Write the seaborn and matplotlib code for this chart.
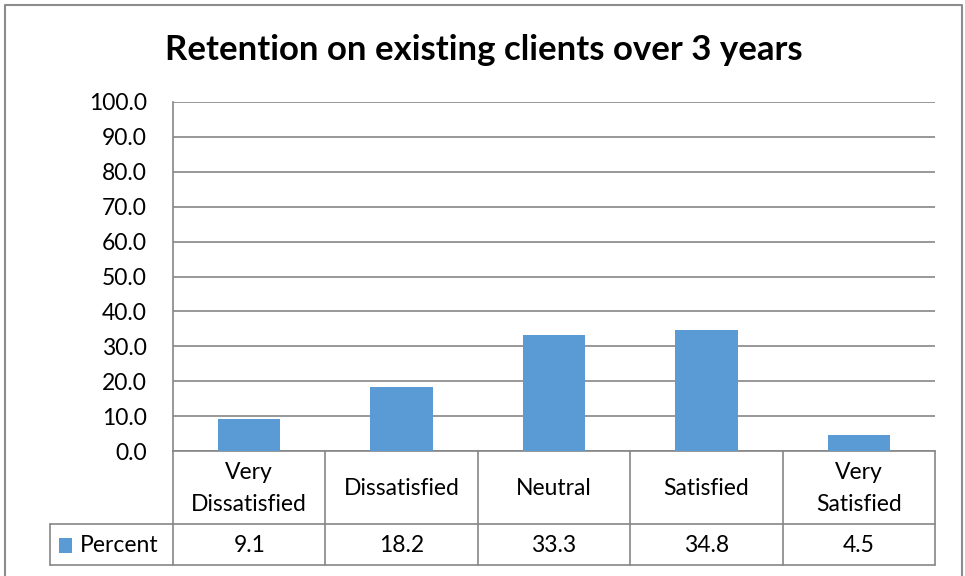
import matplotlib
matplotlib.use("Agg")
import matplotlib.pyplot as plt
import seaborn as sns
import pandas as pd
from matplotlib.lines import Line2D
from matplotlib.patches import Rectangle
import matplotlib.transforms as mtransforms

categories = ["Very\nDissatisfied", "Dissatisfied", "Neutral", "Satisfied", "Very\nSatisfied"]
values = [9.1, 18.2, 33.3, 34.8, 4.5]
value_labels = ["9.1", "18.2", "33.3", "34.8", "4.5"]
series_name = "Percent"
title = "Retention on existing clients over 3 years"
yticks = [0, 10, 20, 30, 40, 50, 60, 70, 80, 90, 100]

sns.set_theme(style="white")
plt.rcParams["font.family"] = ["Lato", "DejaVu Sans"]

W, H = 965, 576
fig = plt.figure(figsize=(W / 100, H / 100), dpi=100)

def fx(px):
    return px / W

def fy(py):
    return 1 - py / H

FS = 16.5
ax_left, ax_right, ax_top, ax_bottom = 173, 935, 102, 451
ax = fig.add_axes([fx(ax_left), fy(ax_bottom), fx(ax_right - ax_left), (ax_bottom - ax_top) / H])

df = pd.DataFrame({"cat": categories, "val": values})
bar_color = "#5B9BD5"
sns.barplot(data=df, x="cat", y="val", color=bar_color, saturation=1, width=0.41, ax=ax,
            zorder=3, linewidth=0)

ax.set_ylim(0, 100)
ax.set_xlim(-0.5, len(categories) - 0.5)
ax.set_yticks(yticks)
ax.set_yticklabels([f"{t:.1f}" for t in yticks], fontsize=FS, color="#000000")
ax.set_xticks([])
ax.set_xlabel("")
ax.set_ylabel("")
grid_c = "#868686"
ax.yaxis.grid(True, color=grid_c, linewidth=1.2, zorder=0)
ax.set_axisbelow(True)
for s in ["top", "right"]:
    ax.spines[s].set_visible(False)
ax.spines["left"].set_color(grid_c)
ax.spines["left"].set_linewidth(1.2)
ax.spines["bottom"].set_color(grid_c)
ax.spines["bottom"].set_linewidth(1.2)
ax.tick_params(axis="y", length=0, pad=19)

# Data table below the plot
trans = mtransforms.blended_transform_factory(ax.transData, fig.transFigure)
row1_bottom = 524
row2_bottom = 565
legend_left = 50
lw = 1.2
for i in range(len(categories) + 1):
    xv = i - 0.5
    fig.add_artist(Line2D([xv, xv], [fy(ax_bottom), fy(row2_bottom)], transform=trans,
                          color=grid_c, linewidth=lw))
for yy in [row1_bottom, row2_bottom]:
    fig.add_artist(Line2D([fx(legend_left), fx(ax_right)], [fy(yy), fy(yy)],
                          transform=fig.transFigure, color=grid_c, linewidth=lw))
fig.add_artist(Line2D([fx(legend_left), fx(legend_left)], [fy(row1_bottom), fy(row2_bottom)],
                      transform=fig.transFigure, color=grid_c, linewidth=lw))

for i, (c, v) in enumerate(zip(categories, value_labels)):
    fig.text(i, fy((ax_bottom + row1_bottom) / 2 + 1), c, transform=trans, ha="center", va="center",
             fontsize=FS, linespacing=1.6, color="#000000")
    fig.text(i, fy((row1_bottom + row2_bottom) / 2 + 1), v, transform=trans, ha="center", va="center",
             fontsize=FS, color="#000000")

fig.add_artist(Rectangle((fx(59), fy(553)), fx(13), (553 - 538) / H, transform=fig.transFigure,
                         facecolor=bar_color, edgecolor="none"))
fig.text(fx(80), fy((row1_bottom + row2_bottom) / 2 + 1), series_name, ha="left", va="center",
         fontsize=FS, color="#000000")

fig.text(fx(484), fy(50), title, ha="center", va="center", fontsize=25, fontweight="bold",
         color="#000000")

fig.add_artist(Line2D([fx(5), fx(5), fx(962), fx(962)], [0, fy(5), fy(5), 0],
                      transform=fig.transFigure, color="#8c8c8c", linewidth=1.5))

fig.savefig("out.png", dpi=100)
